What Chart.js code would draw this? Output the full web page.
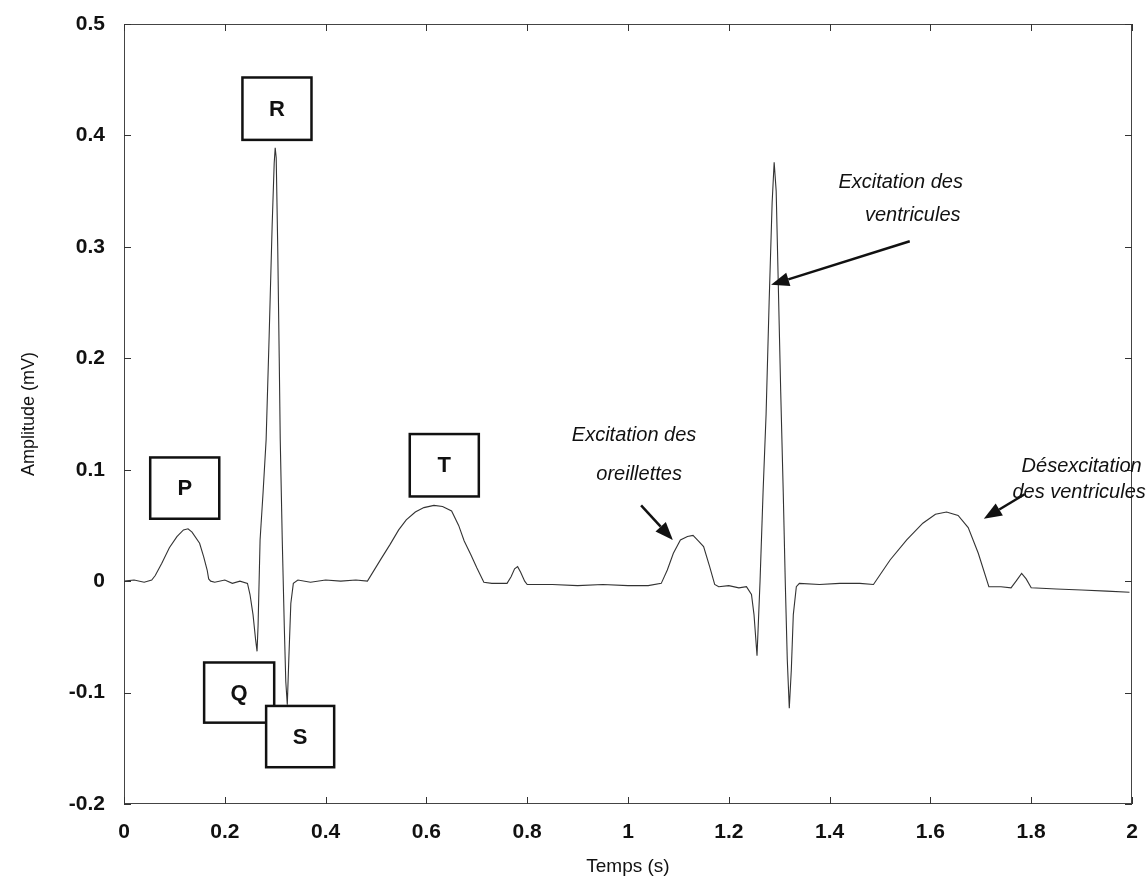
<!DOCTYPE html>
<html><head><meta charset="utf-8">
<script src="https://cdn.jsdelivr.net/npm/chart.js@4"></script>
<style>html,body{margin:0;padding:0;background:#fff}</style>
</head><body>
<canvas id="c" width="1146" height="888"></canvas>
<script>
// ---- data ----
const timeS = [
  0, 0.02, 0.04, 0.055, 0.062, 0.075, 0.09, 0.105, 0.118, 0.127, 0.135, 0.15, 0.158, 0.165, 0.168, 0.172, 0.18, 0.2, 0.215, 0.23, 0.245,
  0.25, 0.256, 0.261, 0.264, 0.266, 0.27, 0.276, 0.282, 0.288, 0.294, 0.298, 0.3, 0.302, 0.305, 0.308, 0.31, 0.314, 0.318, 0.321, 0.324, 0.327, 0.331, 0.336, 0.345,
  0.37, 0.4, 0.43, 0.46, 0.483, 0.51, 0.528, 0.545, 0.56, 0.578, 0.595, 0.615, 0.632, 0.65, 0.664, 0.675, 0.688, 0.7, 0.714, 0.73,
  0.76, 0.768, 0.775, 0.781, 0.787, 0.795, 0.8, 0.85, 0.9, 0.95, 1.0, 1.04, 1.066,
  1.078, 1.09, 1.104, 1.118, 1.129, 1.14, 1.15, 1.162, 1.172, 1.18, 1.2, 1.22, 1.235,
  1.245, 1.25, 1.256, 1.262, 1.268, 1.274, 1.28, 1.286, 1.29, 1.294, 1.298, 1.303, 1.308, 1.312, 1.316, 1.32, 1.324, 1.328, 1.334, 1.34,
  1.38, 1.42, 1.46, 1.487, 1.52, 1.553, 1.585, 1.61, 1.632, 1.655, 1.675, 1.695, 1.716, 1.74, 1.76,
  1.77, 1.781, 1.79, 1.8, 1.85, 1.9, 1.95, 1.995
];
const amplitudeMV = [
  0.000, 0.001, -0.001, 0.001, 0.005, 0.016, 0.030, 0.040, 0.046, 0.047, 0.044, 0.034, 0.022, 0.010, 0.002, 0.000, -0.001, 0.001, -0.002, 0.000, -0.002,
  -0.012, -0.030, -0.052, -0.063, -0.040, 0.037, 0.080, 0.127, 0.220, 0.320, 0.375, 0.389, 0.380, 0.300, 0.200, 0.127, 0.037, -0.040, -0.090, -0.111, -0.070, -0.020, -0.002, 0.001,
  -0.001, 0.001, 0.000, 0.001, 0.000, 0.020, 0.033, 0.046, 0.055, 0.062, 0.066, 0.068, 0.067, 0.063, 0.050, 0.036, 0.024, 0.012, -0.001, -0.002,
  -0.002, 0.004, 0.011, 0.013, 0.008, 0.000, -0.003, -0.003, -0.004, -0.003, -0.004, -0.004, -0.002,
  0.010, 0.025, 0.037, 0.040, 0.041, 0.036, 0.031, 0.013, -0.003, -0.005, -0.004, -0.006, -0.005,
  -0.012, -0.030, -0.067, 0.000, 0.080, 0.150, 0.250, 0.340, 0.376, 0.350, 0.270, 0.170, 0.080, 0.000, -0.070, -0.114, -0.080, -0.030, -0.005, -0.002,
  -0.003, -0.002, -0.002, -0.003, 0.019, 0.037, 0.052, 0.060, 0.062, 0.059, 0.048, 0.025, -0.005, -0.005, -0.006,
  0.000, 0.007, 0.002, -0.006, -0.007, -0.008, -0.009, -0.010
];
const xTickValues = [0, 0.2, 0.4, 0.6, 0.8, 1, 1.2, 1.4, 1.6, 1.8, 2];
const xTickLabels = ['0', '0.2', '0.4', '0.6', '0.8', '1', '1.2', '1.4', '1.6', '1.8', '2'];
const yTickValues = [-0.2, -0.1, 0, 0.1, 0.2, 0.3, 0.4, 0.5];
const yTickLabels = ['-0.2', '-0.1', '0', '0.1', '0.2', '0.3', '0.4', '0.5'];
const xTitle = 'Temps (s)';
const yTitle = 'Amplitude (mV)';

// wave letters and their boxes (in data units: t0, t1, v top, v bottom)
const waveLetters = ['P', 'R', 'Q', 'S', 'T'];
const waveBoxT0 = [0.052, 0.235, 0.159, 0.282, 0.567];
const waveBoxT1 = [0.189, 0.372, 0.298, 0.417, 0.704];
const waveBoxVTop = [0.111, 0.452, -0.073, -0.112, 0.132];
const waveBoxVBot = [0.056, 0.396, -0.127, -0.167, 0.076];

// italic notes
const noteTexts = ['Excitation des', 'ventricules', 'Excitation des', 'oreillettes', 'Désexcitation', 'des ventricules'];
const noteT = [1.541, 1.565, 1.012, 1.022, 1.9, 1.895];
const noteV = [0.358, 0.328, 0.131, 0.096, 0.103, 0.080];

// arrows (tail -> head)
const arrowTailT = [1.559, 1.026, 1.787];
const arrowTailV = [0.305, 0.068, 0.078];
const arrowHeadT = [1.284, 1.089, 1.706];
const arrowHeadV = [0.266, 0.037, 0.056];

const points = timeS.map((t, i) => ({ x: t, y: amplitudeMV[i] }));

const annotate = {
  id: 'annotate',
  afterDraw(chart) {
    const ctx = chart.ctx, xs = chart.scales.x, ys = chart.scales.y, a = chart.chartArea;
    ctx.save();
    // frame
    ctx.strokeStyle = '#444'; ctx.lineWidth = 1;
    ctx.strokeRect(a.left + 0.5, a.top + 0.5, a.right - a.left - 1, a.bottom - a.top - 1);
    // inward ticks
    ctx.strokeStyle = '#333';
    ctx.beginPath();
    xTickValues.forEach(v => {
      const px = Math.round(xs.getPixelForValue(v)) + 0.5;
      ctx.moveTo(px, a.bottom); ctx.lineTo(px, a.bottom - 7);
      ctx.moveTo(px, a.top); ctx.lineTo(px, a.top + 7);
    });
    yTickValues.forEach(v => {
      const py = Math.round(ys.getPixelForValue(v)) + 0.5;
      ctx.moveTo(a.left, py); ctx.lineTo(a.left + 7, py);
      ctx.moveTo(a.right, py); ctx.lineTo(a.right - 7, py);
    });
    ctx.stroke();
    // boxes
    waveLetters.forEach((L, i) => {
      const x0 = xs.getPixelForValue(waveBoxT0[i]), x1 = xs.getPixelForValue(waveBoxT1[i]);
      const y0 = ys.getPixelForValue(waveBoxVTop[i]), y1 = ys.getPixelForValue(waveBoxVBot[i]);
      ctx.fillStyle = '#fff';
      ctx.fillRect(x0, y0, x1 - x0, y1 - y0);
      ctx.strokeStyle = '#111'; ctx.lineWidth = 2.5;
      ctx.strokeRect(x0, y0, x1 - x0, y1 - y0);
      ctx.fillStyle = '#111';
      ctx.font = 'bold 22px "Liberation Sans", Arial, sans-serif';
      ctx.textAlign = 'center'; ctx.textBaseline = 'middle';
      ctx.fillText(L, (x0 + x1) / 2, (y0 + y1) / 2 + 1);
    });
    // notes
    ctx.fillStyle = '#111';
    ctx.font = 'italic 20px "Liberation Sans", Arial, sans-serif';
    ctx.textAlign = 'center'; ctx.textBaseline = 'middle';
    noteTexts.forEach((s, i) => {
      ctx.fillText(s, xs.getPixelForValue(noteT[i]), ys.getPixelForValue(noteV[i]));
    });
    // arrows
    arrowTailT.forEach((t, i) => {
      const x0 = xs.getPixelForValue(t), y0 = ys.getPixelForValue(arrowTailV[i]);
      const x1 = xs.getPixelForValue(arrowHeadT[i]), y1 = ys.getPixelForValue(arrowHeadV[i]);
      const ang = Math.atan2(y1 - y0, x1 - x0);
      const hl = 18, hw = 7;
      const bx = x1 - hl * Math.cos(ang), by = y1 - hl * Math.sin(ang);
      ctx.strokeStyle = '#111'; ctx.lineWidth = 2.5;
      ctx.beginPath(); ctx.moveTo(x0, y0); ctx.lineTo(bx, by); ctx.stroke();
      ctx.beginPath();
      ctx.moveTo(x1, y1);
      ctx.lineTo(bx + hw * Math.sin(ang), by - hw * Math.cos(ang));
      ctx.lineTo(bx - hw * Math.sin(ang), by + hw * Math.cos(ang));
      ctx.closePath(); ctx.fill();
    });
    ctx.restore();
  }
};

new Chart(document.getElementById('c'), {
  type: 'line',
  data: {
    datasets: [{
      data: points,
      borderColor: '#333',
      borderWidth: 1.1,
      pointRadius: 0,
      tension: 0,
      fill: false
    }]
  },
  options: {
    responsive: false,
    animation: false,
    devicePixelRatio: 1,
    layout: { padding: { top: 24, right: 14, left: 0, bottom: 0 } },
    plugins: { legend: { display: false }, tooltip: { enabled: false } },
    scales: {
      x: {
        type: 'linear', min: 0, max: 2,
        afterBuildTicks(s) { s.ticks = xTickValues.map(v => ({ value: v })); },
        afterFit(s) { s.height = 84; },
        grid: { display: false },
        border: { display: false },
        ticks: {
          padding: 8, color: '#111',
          font: { family: '"Liberation Sans", Arial, sans-serif', size: 21, weight: 'bold' },
          callback: (v) => xTickLabels[xTickValues.indexOf(Math.round(v * 10) / 10)],
          maxRotation: 0, autoSkip: false
        },
        title: {
          display: true, text: xTitle, color: '#111',
          font: { family: '"Liberation Sans", Arial, sans-serif', size: 19 },
          padding: { top: 0, bottom: 10 }
        }
      },
      y: {
        type: 'linear', min: -0.2, max: 0.5,
        afterBuildTicks(s) { s.ticks = yTickValues.map(v => ({ value: v })); },
        afterFit(s) { s.width = 124; },
        grid: { display: false },
        border: { display: false },
        ticks: {
          padding: 11, color: '#111',
          font: { family: '"Liberation Sans", Arial, sans-serif', size: 21, weight: 'bold' },
          callback: (v) => yTickLabels[yTickValues.indexOf(Math.round(v * 10) / 10)]
        },
        title: {
          display: true, text: yTitle, color: '#111',
          font: { family: '"Liberation Sans", Arial, sans-serif', size: 18 },
          padding: { top: 18, bottom: 0 }
        }
      }
    }
  },
  plugins: [annotate]
});
</script>
</body></html>
